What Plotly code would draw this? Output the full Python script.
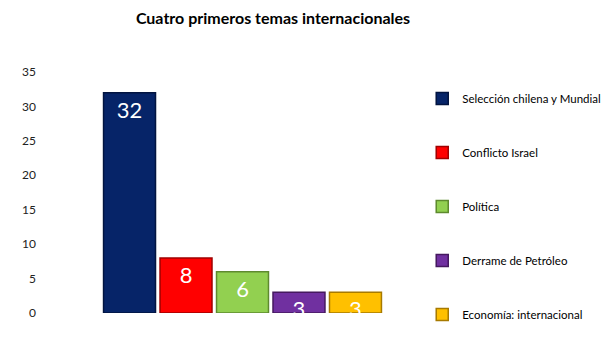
import plotly.graph_objects as go

categories = ["Selección chilena y Mundial", "Conflicto Israel", "Política",
              "Derrame de Petróleo", "Economía: internacional"]
values = [32, 8, 6, 3, 3]
colors = ["#062468", "#FF0000", "#92D050", "#7030A0", "#FFC000"]
edge_colors = ["#021440", "#A00000", "#5E8A2E", "#45195F", "#A77A00"]
y_ticks = [0, 5, 10, 15, 20, 25, 30, 35]

fig = go.Figure()
for i, (name, v, c, e) in enumerate(zip(categories, values, colors, edge_colors)):
    fig.add_trace(go.Bar(
        x=[""], y=[v], name=name,
        marker=dict(color=c, line=dict(color=e, width=1.5)),
        text=[str(v)], textposition="inside", insidetextanchor="end",
        constraintext="none", textangle=0,
        textfont=dict(color="white", size=22, family="Lato"),
        legendgroup=str(i),
    ))

fig.update_layout(
    width=616, height=363,
    margin=dict(l=45, r=176, t=72, b=50, autoexpand=False),
    paper_bgcolor="white", plot_bgcolor="white",
    font=dict(family="Lato", size=12, color="#222222"),
    title=dict(text="<b>Cuatro primeros temas internacionales</b>",
               x=273 / 616, xanchor="center", y=1 - 18 / 363, yanchor="middle",
               font=dict(size=16, family="Lato", color="black")),
    barmode="group", bargap=0.285, bargroupgap=0.08,
    showlegend=True,
    legend=dict(x=0.955, xanchor="left", y=0.95, yanchor="top",
                tracegroupgap=35, font=dict(size=11.5, family="Lato", color="black"),
                itemwidth=30, maxheight=600),
    xaxis=dict(showticklabels=False, showline=False, showgrid=False, zeroline=False),
    yaxis=dict(range=[0, 35], tickvals=y_ticks, showgrid=False, showline=False,
               zeroline=False, ticks="", ticklabelstandoff=8,
               tickfont=dict(size=12, family="Lato", color="#222222")),
)

fig.write_html("out.html")
